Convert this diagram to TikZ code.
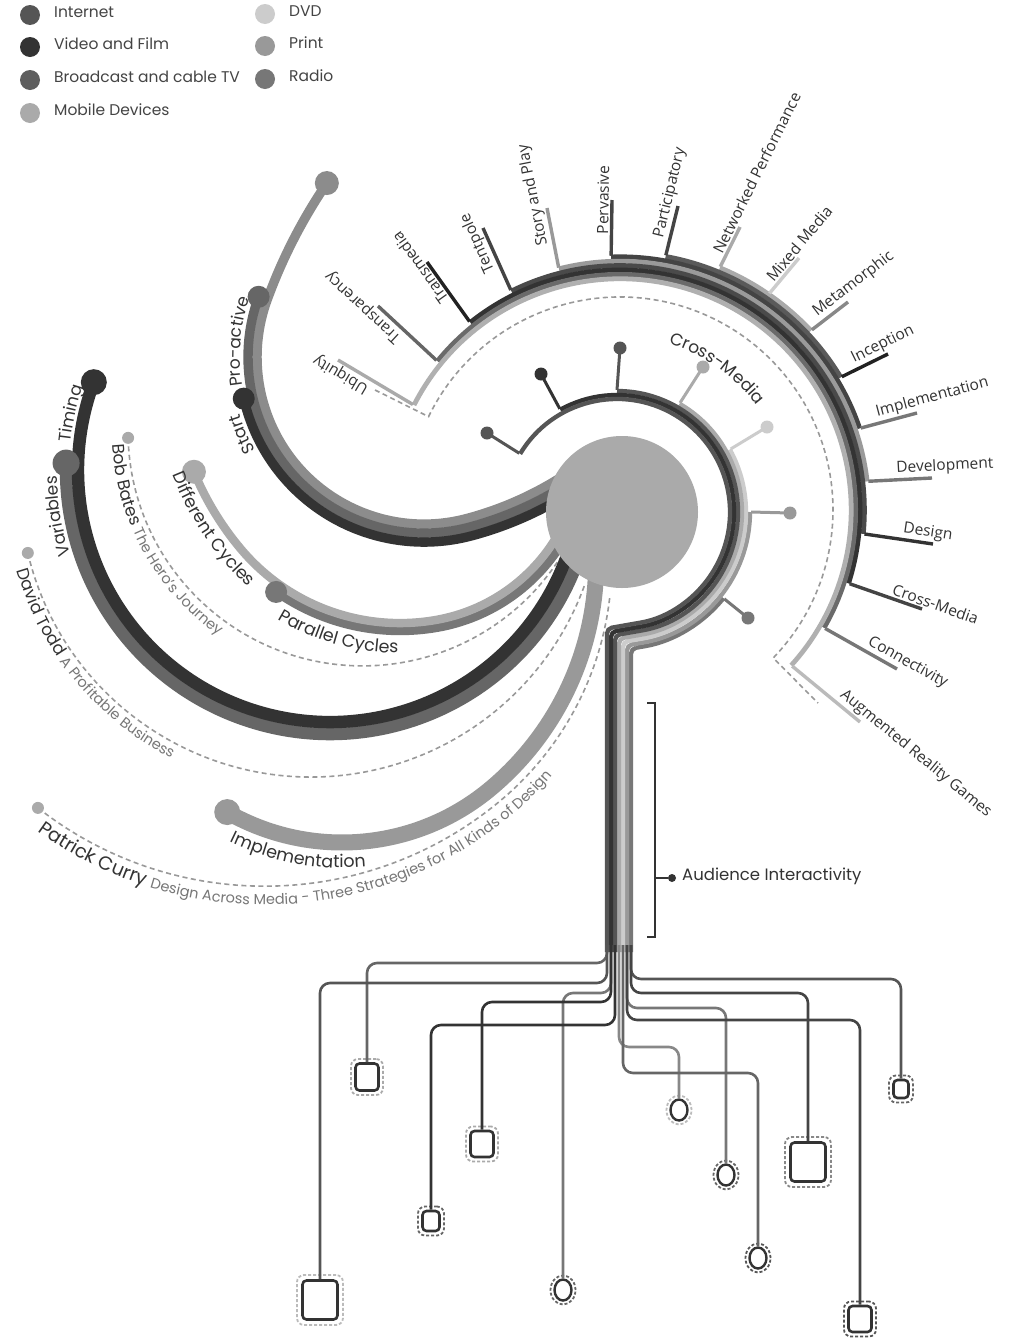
\documentclass[tikz,border=0pt]{standalone}
\usepackage{fontspec}
\setmainfont{Poppins}
\newfontfamily\ringfont{Open Sans}
\usetikzlibrary{shapes.geometric,decorations.text,calc}
\definecolor{g22}{HTML}{222222}
\definecolor{g33}{HTML}{333333}
\definecolor{g44}{HTML}{444444}
\definecolor{g4a}{HTML}{4A4A4A}
\definecolor{g55}{HTML}{555555}
\definecolor{g5a}{HTML}{5A5A5A}
\definecolor{g5e}{HTML}{5E5E5E}
\definecolor{g66}{HTML}{666666}
\definecolor{g6a}{HTML}{6A6A6A}
\definecolor{g77}{HTML}{777777}
\definecolor{g88}{HTML}{888888}
\definecolor{g8c}{HTML}{8C8C8C}
\definecolor{g99}{HTML}{999999}
\definecolor{g9a}{HTML}{9A9A9A}
\definecolor{gaa}{HTML}{AAAAAA}
\definecolor{gb0}{HTML}{B0B0B0}
\definecolor{gbb}{HTML}{BBBBBB}
\definecolor{gcc}{HTML}{CCCCCC}
\newcommand\tBand{\fontsize{17}{17}\selectfont\color{g33}}
\newcommand\tBig{\fontsize{17.5}{18}\selectfont\color{g33}}
\newcommand\tPC{\fontsize{19}{19}\selectfont\color{g33}}
\newcommand\tName{\fontsize{17}{17}\selectfont\color{g33}}
\newcommand\tTitle{\fontsize{14.5}{15}\selectfont\color{g77}}
\begin{document}
\begin{tikzpicture}[x=1pt,y=-1pt,
  ldot/.style={circle, inner sep=0pt, minimum size=20pt},
  ltext/.style={anchor=mid west, text=g44, font=\fontsize{15.5}{16}\selectfont, inner sep=0pt},
  dashline/.style={g99, line width=1.6pt, dash pattern=on 5pt off 3.5pt},
  adot/.style={circle, fill=gaa, inner sep=0pt, minimum size=12pt},
  bdot/.style={circle, inner sep=0pt},
  stublbl/.style={sloped, allow upside down, anchor=south west, inner sep=1.5pt, text=g33, font=\ringfont\fontsize{15.5}{16}\selectfont},
  idot/.style={circle, inner sep=0pt, minimum size=13pt},
  fan/.style={line width=2.6pt, rounded corners=10pt},
  boxin/.style={draw=g33, line width=2.6pt, rounded corners=4pt, fill=white, inner sep=0pt},
  boxout/.style={line width=1.8pt, rounded corners=7pt, inner sep=0pt, dash pattern=on 3pt off 2pt},
  ellin/.style={ellipse, draw=g33, line width=2.4pt, fill=white, inner sep=0pt, minimum width=17pt, minimum height=21pt},
  ellout/.style={ellipse, line width=1.8pt, inner sep=0pt, dash pattern=on 3pt off 2pt, minimum width=25pt, minimum height=29pt},
  curvtext/.style={decorate, decoration={text along path, text align=left, #1}}
]
\fill[white] (0,0) rectangle (1009,1339);
\useasboundingbox (0,0) rectangle (1009,1339);

% ---------------- legend
\foreach \nn/\xx/\yy/\col/\tt in {1/30/15/g55/Internet, 2/30/47/g33/Video and Film, 3/30/80/g5e/Broadcast and cable TV, 4/30/113/gaa/Mobile Devices, 5/265/14/gcc/DVD, 6/265/46/g99/Print, 7/265/79/g77/Radio}{
  \node[ldot, fill=\col] (ld\nn) at (\xx,\yy) {};
  \node[ltext] (lt\nn) at (\xx+24,\yy) {\tt};
}

% ---------------- outer dashed ring
\draw[dashline] (375,390) -- ([shift={(620,510)}]206:213) arc[start angle=206, end angle=404, radius=213] -- (818,703);

% ---------------- outer band
\foreach \ii/\col in {7/gaa,6/g5a,5/g44,4/g9a,3/g4a,2/g33,1/g6a,0/gb0}{
  \draw[line width=4.8pt, \col] ([shift={(620,510)}]{207+12.2*\ii}:{231.2+4.4*\ii}) arc[start angle={207+12.2*\ii}, end angle={402.2-12.2*\ii}, radius={231.2+4.4*\ii}];
}
% stubs + labels
\foreach \kk/\an/\rr/\tx/\ty/\col/\pp/\lab in {
  0/207/233.4/338/360/gaa/0.5/Ubiquity,
  1/219.2/237.8/378/306/g66/0.48/Transparency,
  2/231.4/242.2/427/262/g22/0.37/Transmedia,
  3/243.6/246.6/483/228/g44/0.32/Tentpole,
  4/255.8/251/547/208/g99/0.35/Story and Play,
  5/268/255.4/612/200/g44/0.33/Pervasive,
  6/280.2/259.8/678/206/g44/0.24/Participatory,
  7/292.4/264.2/740/227/gaa/0.19/Networked Performance,
  8/304.6/264.2/799/258/gcc/0.17/Mixed Media,
  9/316.8/264.2/848/302/g88/0.2/Metamorphic,
  10/329/259.8/888/354/g22/0.27/Inception,
  11/341.2/255.4/917/413/g77/0.27/Implementation,
  12/353.4/251/932/478/g77/0.4/Development,
  13/365.6/246.6/933/544/g33/0.5/Design,
  14/377.8/242.2/922/609/g44/0.52/Cross-Media,
  15/390/237.8/897/669/g77/0.5/Connectivity,
  16/402.2/233.4/860/722/gbb/0.6/Augmented Reality Games}{
  \coordinate (ob\kk) at ([shift={(620,510)}]\an:{\rr-1});
  \coordinate (ot\kk) at (\tx,\ty);
  \draw[line width=3.4pt, \col] (ob\kk) -- (ot\kk) node[stublbl, pos=\pp] (lb\kk) {\lab};
}

% ---------------- author dashed curves
\draw[dashline] ([shift={(362.6,431.3)}]178.4:234.6) arc[start angle=178.4, end angle=33.9, radius=234.6];
\draw[dashline] ([shift={(311,486)}]166.7:291) arc[start angle=166.7, end angle=19.9, radius=291];
\draw[dashline] ([shift={(264.7,518.7)}]128.1:367.5) arc[start angle=128.1, end angle=50, radius=367.5] arc[start angle=50, end angle=6, radius=310];
\node[adot] (bbdot) at ([shift={(362.6,431.3)}]178.4:234.6) {};
\node[adot] (dtdot) at ([shift={(311,486)}]166.7:291) {};
\node[adot] (pcdot) at ([shift={(264.7,518.7)}]128.1:367.5) {};

% ---------------- band D (Implementation)
\draw[line width=16pt, g99] ([shift={(342,610.8)}]119.7:231.7) arc[start angle=119.7, end angle=50, radius=231.7] arc[start angle=50, end angle=-5, radius=294.5];
\node[bdot, fill=g99, minimum size=26pt] (ddot) at ([shift={(342,610.8)}]119.7:231.7) {};

% ---------------- band B (Timing / Variables)
\draw[line width=12.4pt, g66] ([shift={(330,470)}]18:264) arc[start angle=18, end angle=181.5, radius=264];
\draw[line width=12.4pt, g33] ([shift={(330,470)}]18:252) arc[start angle=18, end angle=200.4, radius=252];
\node[bdot, fill=g66, minimum size=27pt] (vdot) at ([shift={(330,470)}]181.5:264) {};
\node[bdot, fill=g33, minimum size=26pt] (tdot) at ([shift={(330,470)}]200.4:252) {};

% ---------------- band C (Different / Parallel Cycles)
\draw[line width=8.4pt, g77] ([shift={(400,415)}]125:216) arc[start angle=125, end angle=80, radius=216] arc[start angle=80, end angle=30, radius=184];
\draw[line width=8.4pt, gaa] ([shift={(467.4,358.5)}]157.5:296) arc[start angle=157.5, end angle=140, radius=296] arc[start angle=140, end angle=80, radius=208] arc[start angle=80, end angle=30, radius=176];
\node[bdot, fill=gaa, minimum size=24pt] (dcdot) at ([shift={(467.4,358.5)}]157.5:296) {};
\node[bdot, fill=g77, minimum size=22pt] (pcydot) at ([shift={(400,415)}]125:216) {};

% ---------------- band A (Start / Pro-active)
\draw[line width=9.4pt, g8c] ([shift={(379,189)}]55:341) arc[start angle=55, end angle=75, radius=341] arc[start angle=75, end angle=200, radius=167] arc[start angle=200, end angle=214.2, radius=531];
\draw[line width=9.4pt, g66] ([shift={(379,189)}]55:350) arc[start angle=55, end angle=75, radius=350] arc[start angle=75, end angle=200, radius=176];
\draw[line width=9.4pt, g33] ([shift={(379,189)}]55:359) arc[start angle=55, end angle=75, radius=359] arc[start angle=75, end angle=167, radius=185];
\node[bdot, fill=g8c, minimum size=24pt] (adot1) at ([shift={(766,481.5)}]214.2:531) {};
\node[bdot, fill=g66, minimum size=22pt] (adot2) at ([shift={(424,357)}]200:176) {};
\node[bdot, fill=g33, minimum size=22pt] (adot3) at ([shift={(424,357)}]167:185) {};

% ---------------- central disc
\node[circle, fill=gaa, minimum size=152pt, inner sep=0pt] (disc) at (622,512) {};

% ---------------- inner ring + stem
\foreach \jj/\an/\col/\xs/\yb in {6/399/g77/631/648.6, 5/360/g99/627/645.3, 4/331/gcc/623/641.9, 3/300/gaa/619/638.6, 2/270/g55/615/635.2, 1/241/g33/611/631.9, 0/211/g55/607/628.5}{
  \draw[line width=4.3pt, \col, rounded corners=5pt] ([shift={(617,512)}]\an:{113+4*\jj}) arc[start angle=\an, end angle=440, radius={113+4*\jj}] -- (\xs,\yb) -- (\xs,952);
}
\foreach \jj/\an/\col/\dx/\dy in {0/211/g55/487/433, 1/241/g33/541/374, 2/270/g55/620/348, 3/300/gaa/703/367, 4/331/gcc/767/427, 5/360/g99/790/513, 6/399/g77/748/618}{
  \coordinate (ib\jj) at ([shift={(617,512)}]\an:{114+4*\jj});
  \coordinate (ic\jj) at (\dx,\dy);
  \draw[line width=3pt, \col] (ib\jj) -- (ic\jj);
  \node[idot, fill=\col] (id\jj) at (ic\jj) {};
}

% ---------------- bottom nodes
\node[boxout, draw=gaa, minimum width=32pt, minimum height=36pt] (B1o) at (367,1077) {};
\node[boxin, minimum width=23pt, minimum height=27pt] (B1) at (367,1077) {};
\node[boxout, draw=gbb, minimum width=46pt, minimum height=50pt] (B2o) at (320,1300) {};
\node[boxin, minimum width=35pt, minimum height=39pt] (B2) at (320,1300) {};
\node[boxout, draw=gaa, minimum width=32pt, minimum height=35pt] (B3o) at (482,1144) {};
\node[boxin, minimum width=23pt, minimum height=26pt] (B3) at (482,1144) {};
\node[boxout, draw=g66, minimum width=26pt, minimum height=29pt] (B4o) at (431,1221) {};
\node[boxin, minimum width=17pt, minimum height=20pt] (B4) at (431,1221) {};
\node[boxout, draw=g66, minimum width=24pt, minimum height=27pt] (B5o) at (901,1089) {};
\node[boxin, minimum width=15pt, minimum height=18pt] (B5) at (901,1089) {};
\node[boxout, draw=g88, minimum width=46pt, minimum height=50pt] (B6o) at (808,1162) {};
\node[boxin, minimum width=35pt, minimum height=39pt] (B6) at (808,1162) {};
\node[boxout, draw=g55, minimum width=32pt, minimum height=35pt] (B7o) at (860,1319) {};
\node[boxin, minimum width=23pt, minimum height=26pt] (B7) at (860,1319) {};
\node[ellout, draw=g66] (C1o) at (563,1290) {};
\node[ellin] (C1) at (563,1290) {};
\node[ellout, draw=g66] (C2o) at (726,1175) {};
\node[ellin] (C2) at (726,1175) {};
\node[ellout, draw=gbb] (C3o) at (679,1110) {};
\node[ellin] (C3) at (679,1110) {};
\node[ellout, draw=g55] (C4o) at (758,1258) {};
\node[ellin] (C4) at (758,1258) {};

% fan connectors
\coordinate (sa) at (607,945);
\coordinate (sb) at (611,945);
\coordinate (sc) at (615,945);
\coordinate (sd) at (619,945);
\coordinate (se) at (623,945);
\coordinate (sf) at (627,945);
\coordinate (sg) at (631,945);
\draw[fan, g66] (sa) -- ++(0,18) -| (B1.north);
\draw[fan, g55] (sa) -- ++(0,38) -| (B2.north);
\draw[fan, g77] (sb) -- ++(0,48) -| (C1.north);
\draw[fan, g33] (sb) -- ++(0,57) -| (B3.north);
\draw[fan, g33] (sc) -- ++(0,80) -| (B4.north);
\draw[fan, g55] (sg) -- ++(0,34) -| (B5.north);
\draw[fan, g44] (sg) -- ++(0,48) -| (B6.north);
\draw[fan, g77] (sf) -- ++(0,63) -| (C2.north);
\draw[fan, g44] (sf) -- ++(0,75) -| (B7.north);
\draw[fan, g88] (sd) -- ++(0,102) -| (C3.north);
\draw[fan, g66] (se) -- ++(0,128) -| (C4.north);

% ---------------- audience bracket
\coordinate (brt) at (647,703);
\coordinate (brb) at (647,937);
\coordinate (brm) at (655,878);
\draw[g33, line width=1.8pt] (brt) -- ++(8,0) |- (brb);
\node[circle, fill=g33, minimum size=8pt, inner sep=0pt] (aidot) at (672,878) {};
\draw[g33, line width=1.8pt] (brm) -- (aidot);
\node[anchor=mid west, inner sep=0pt, text=g33, font=\fontsize{16.5}{17}\selectfont] (ailbl) at (682,878) {Audience Interactivity};

% ---------------- curved labels
\path[curvtext={text={|\tBand|Cross-Media}}] ([shift={(617,512)}]287:176) arc[start angle=287, end angle=338, radius=176];
\path[curvtext={text={|\tBand|Start}}] ([shift={(424,357)}]151:193) arc[start angle=151, end angle=168, radius=193];
\path[curvtext={text={|\tBand|Pro-active}}] ([shift={(424,357)}]171:184) arc[start angle=171, end angle=200, radius=184];
\path[curvtext={text={|\tBand|Timing}}] ([shift={(330,470)}]186:261) arc[start angle=186, end angle=201, radius=261];
\path[curvtext={text={|\tBand|Variables}}] ([shift={(330,470)}]162:273) arc[start angle=162, end angle=181, radius=273];
\path[curvtext={text={|\tBig|Different Cycles}}] ([shift={(467.4,358.5)}]158.5:317) arc[start angle=158.5, end angle=140, radius=317] arc[start angle=140, end angle=118, radius=229];
\path[curvtext={text={|\tBig|Parallel Cycles}}] ([shift={(400,415)}]121:238) arc[start angle=121, end angle=80, radius=238];
\path[curvtext={text={|\tBig|Implementation}}] ([shift={(342,610.8)}]116:257) arc[start angle=116, end angle=65, radius=257];
\path[curvtext={text={|\tName|Bob Bates |\tTitle|The Hero’s Journey}}] ([shift={(362.6,431.3)}]177:250) arc[start angle=177, end angle=110, radius=250];
\path[curvtext={text={|\tName|David Todd |\tTitle|A Profitable Business}}] ([shift={(311,486)}]164:306) arc[start angle=164, end angle=105, radius=306];
\path[curvtext={text={|\tPC|Patrick Curry |\tTitle|Design Across Media - Three Strategies for All Kinds of Design}}] ([shift={(264.7,518.7)}]126:386) arc[start angle=126, end angle=50, radius=386] arc[start angle=50, end angle=5, radius=328.5];
\end{tikzpicture}
\end{document}
